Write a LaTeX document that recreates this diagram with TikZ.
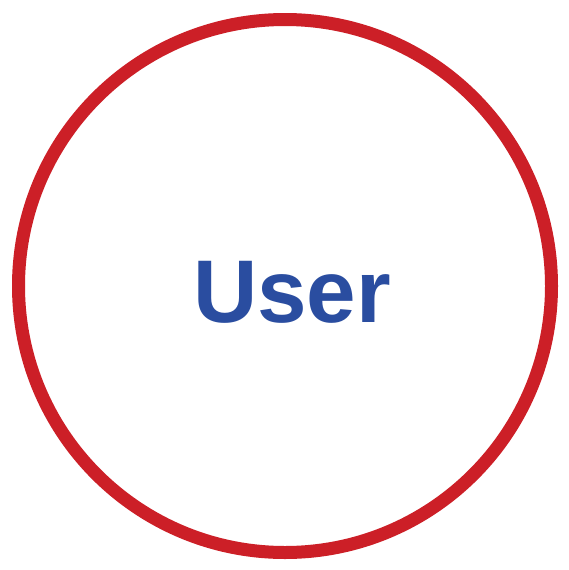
\documentclass[tikz,border=0pt]{standalone}
\usepackage{fontspec}
\setmainfont{Liberation Sans}
\usetikzlibrary{positioning}
\definecolor{userred}{RGB}{204,31,39}
\definecolor{userblue}{RGB}{42,77,160}
\tikzset{
  actor/.style={
    circle, draw=userred, line width=13pt, fill=white,
    minimum size=533pt, inner sep=0pt,
  },
  actorlabel/.style={
    font=\fontsize{89}{89}\selectfont\bfseries, text=userblue,
    inner sep=0pt, anchor=base,
  }
}
\begin{document}
\begin{tikzpicture}[x=1pt, y=1pt]
  \useasboundingbox (0,0) rectangle (569,-570);

  \node[actor] (user) at (285,-286) {};
  \node[actorlabel] (userlabel) at (292,-322) {User};

\end{tikzpicture}
\end{document}
